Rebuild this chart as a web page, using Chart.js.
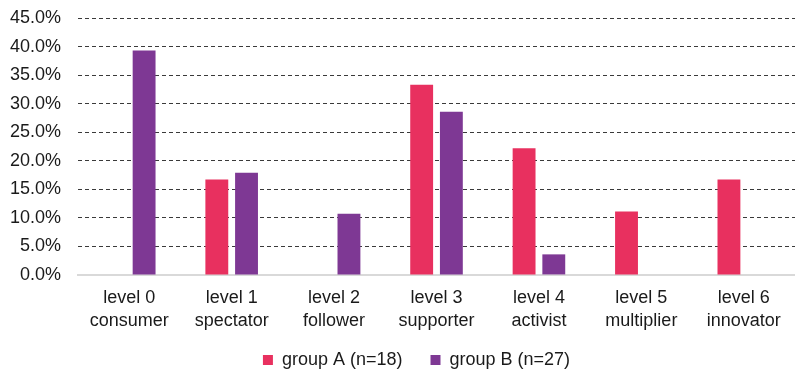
<!DOCTYPE html>
<html>
<head>
<meta charset="utf-8">
<script src="https://cdn.jsdelivr.net/npm/chart.js@4/dist/chart.umd.min.js"></script>
<style>
  html, body { margin: 0; padding: 0; background: #ffffff; }
  #wrap { width: 795px; height: 375px; position: relative; }
</style>
</head>
<body>
<div id="wrap"><canvas id="chart"></canvas></div>
<script>
// Participation levels (two-line category labels)
const levels = [
  ['level 0', 'consumer'],
  ['level 1', 'spectator'],
  ['level 2', 'follower'],
  ['level 3', 'supporter'],
  ['level 4', 'activist'],
  ['level 5', 'multiplier'],
  ['level 6', 'innovator']
];

// Share of respondents per level, in percent
const groupA = [0, 16.7, 0, 33.3, 22.2, 11.1, 16.7];
const groupB = [39.3, 17.9, 10.7, 28.6, 3.6, 0, 0];

const seriesNames = ['group A (n=18)', 'group B (n=27)'];

// Value axis ticks
const yTicks = [0, 5, 10, 15, 20, 25, 30, 35, 40, 45];

const FONT = 'Liberation Sans, Arial, sans-serif';

// Pull the legend row up closer to the axis labels while keeping wide item spacing,
// and centre it under the plot rather than the whole canvas
const legendLift = {
  id: 'legendLift',
  afterLayout(chart) {
    const lg = chart.legend;
    if (lg) {
      lg.top -= 14; lg.bottom -= 14;
      lg.left += 14; lg.right += 14;
    }
  }
};

new Chart(document.getElementById('chart'), {
  type: 'bar',
  data: {
    labels: levels,
    datasets: [
      { label: seriesNames[0], data: groupA, backgroundColor: '#E8305F', borderWidth: 0 },
      { label: seriesNames[1], data: groupB, backgroundColor: '#7E3894', borderWidth: 0 }
    ]
  },
  plugins: [legendLift],
  options: {
    responsive: true,
    maintainAspectRatio: false,
    animation: false,
    layout: { padding: { left: 10, right: 0, top: 18, bottom: -18 } },
    datasets: {
      bar: { categoryPercentage: 0.58, barPercentage: 0.77 }
    },
    plugins: {
      tooltip: { enabled: false },
      legend: {
        position: 'bottom',
        labels: {
          color: '#1a1a1a',
          font: { family: FONT, size: 18 },
          boxWidth: 10,
          boxHeight: 10,
          padding: 28,
          useBorderRadius: false
        }
      }
    },
    scales: {
      x: {
        grid: { display: false },
        border: { display: true, color: '#d9d9d9', width: 2 },
        ticks: {
          color: '#1a1a1a',
          font: { family: FONT, size: 18, lineHeight: 1.28 },
          padding: 4,
          maxRotation: 0,
          autoSkip: false
        }
      },
      y: {
        min: 0,
        max: 45,
        afterBuildTicks: (axis) => { axis.ticks = yTicks.map(v => ({ value: v })); },
        border: { display: false, dash: [4, 3] },
        grid: {
          color: (ctx) => ctx.tick && ctx.tick.value === 0 ? 'rgba(0,0,0,0)' : '#3a3a3a',
          lineWidth: 1,
          drawTicks: true,
          tickLength: 17,
          tickColor: 'rgba(0,0,0,0)'
        },
        ticks: {
          color: '#1a1a1a',
          font: { family: FONT, size: 18 },
          padding: 0,
          callback: (v) => v.toFixed(1) + '%'
        }
      }
    }
  }
});
</script>
</body>
</html>
